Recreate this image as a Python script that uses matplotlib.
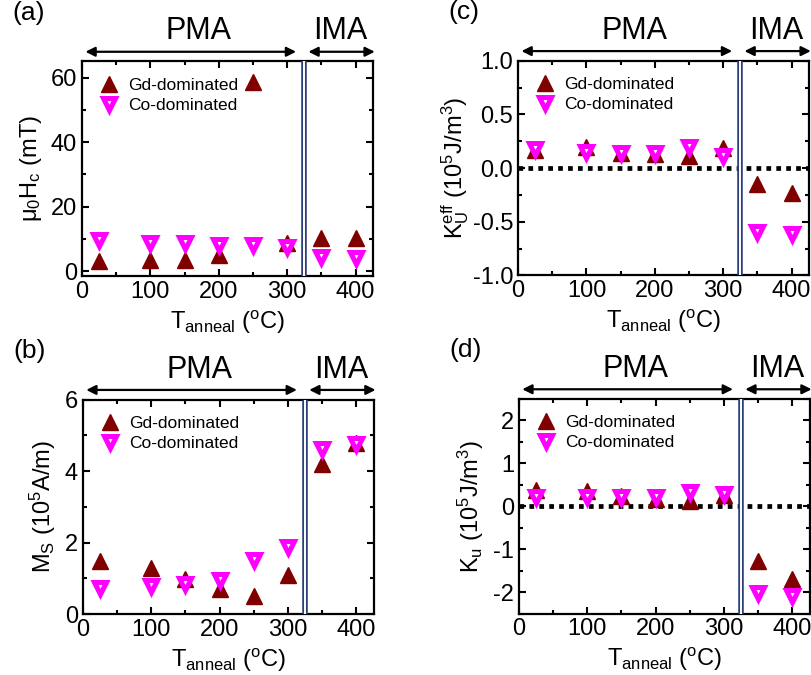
import matplotlib
matplotlib.use("Agg")
import matplotlib.pyplot as plt
from matplotlib.ticker import MultipleLocator

plt.rcParams['font.family'] = ['Liberation Sans', 'DejaVu Sans']
plt.rcParams['mathtext.fontset'] = 'custom'
plt.rcParams['mathtext.rm'] = 'Liberation Sans'
plt.rcParams['mathtext.it'] = 'Liberation Sans'
plt.rcParams['mathtext.default'] = 'rm'
plt.rcParams['axes.unicode_minus'] = False

# annealing temperatures
temps = [25, 100, 150, 200, 250, 300, 350, 400]

# (a) coercive field, mT
hc_gd = [3.2, 3.4, 3.4, 5.0, 58.5, 8.7, 10.3, 10.3]
hc_co = [9.6, 8.8, 8.8, 8.2, 8.2, 7.4, 4.3, 4.0]

# (b) saturation magnetisation, 1e5 A/m
ms_gd = [1.50, 1.30, 0.99, 0.71, 0.51, 1.10, 4.19, 4.79]
ms_co = [0.74, 0.78, 0.85, 0.96, 1.52, 1.87, 4.63, 4.76]

# (c) effective anisotropy, 1e5 J/m^3
keff_gd = [0.17, 0.20, 0.14, 0.13, 0.11, 0.19, -0.15, -0.23]
keff_co = [0.18, 0.15, 0.14, 0.14, 0.20, 0.11, -0.60, -0.61]

# (d) uniaxial anisotropy, 1e5 J/m^3
ku_gd = [0.37, 0.35, 0.23, 0.18, 0.12, 0.26, -1.28, -1.69]
ku_co = [0.21, 0.21, 0.22, 0.21, 0.33, 0.29, -2.02, -2.10]

GD_COLOR = '#800000'
CO_COLOR = '#ff00ff'
T_SPLIT = 325

fig = plt.figure(figsize=(8.12, 6.75), dpi=100)


def make_panel(rect, gd, co, ylim, ymajor, yminor, ylabel, tag, zero_line=False,
               yfmt=None, ypad=5):
    ax = fig.add_axes(rect)
    ax.plot(temps, gd, linestyle='none', marker='^', ms=11.5, color=GD_COLOR,
            label='Gd-dominated', zorder=3)
    ax.plot(temps, co, linestyle='none', marker='v', ms=8.5, mfc='white',
            mec=CO_COLOR, mew=3.6, label='Co-dominated', zorder=4)
    if zero_line:
        ax.axhline(0, color='black', lw=3.4, linestyle=(0, (1, 1.1)), zorder=2)
    ax.axvline(T_SPLIT, color='#2b3f7a', lw=4, zorder=5)
    ax.axvline(T_SPLIT, color='white', lw=1.4, zorder=6)

    ax.set_xlim(0, 425)
    ax.set_ylim(*ylim)
    ax.xaxis.set_major_locator(MultipleLocator(100))
    ax.xaxis.set_minor_locator(MultipleLocator(50))
    ax.yaxis.set_major_locator(MultipleLocator(ymajor))
    ax.yaxis.set_minor_locator(MultipleLocator(yminor))
    if yfmt:
        ax.yaxis.set_major_formatter(yfmt)
    ax.tick_params(which='both', direction='in', top=True, right=True,
                   labelsize=17, width=1.5)
    ax.tick_params(which='major', length=5)
    ax.tick_params(which='minor', length=3)
    for sp in ax.spines.values():
        sp.set_linewidth(1.6)

    ax.set_xlabel(r'T$_{anneal}$ ($^{o}$C)', fontsize=17, labelpad=4)
    ax.set_ylabel(ylabel, fontsize=17, labelpad=ypad)

    ax.legend(loc='upper left', frameon=False, fontsize=12.5,
              handletextpad=0.35, borderaxespad=0.4, labelspacing=0.3,
              handlelength=1.5, bbox_to_anchor=(0.0, 0.99))

    # PMA / IMA arrows above the frame
    ax.annotate('', xy=(5, 1.045), xytext=(313, 1.045),
                xycoords=('data', 'axes fraction'),
                arrowprops=dict(arrowstyle='<|-|>', color='black', lw=1.6,
                                mutation_scale=14, shrinkA=0, shrinkB=0),
                annotation_clip=False)
    ax.annotate('', xy=(331, 1.045), xytext=(428, 1.045),
                xycoords=('data', 'axes fraction'),
                arrowprops=dict(arrowstyle='<|-|>', color='black', lw=1.6,
                                mutation_scale=14, shrinkA=0, shrinkB=0),
                annotation_clip=False)
    ax.text(170, 1.07, 'PMA', transform=ax.get_xaxis_transform(),
            ha='center', va='bottom', fontsize=22)
    ax.text(378, 1.07, 'IMA', transform=ax.get_xaxis_transform(),
            ha='center', va='bottom', fontsize=22)
    ax.text(-0.24, 1.17, tag, transform=ax.transAxes, ha='left', va='bottom',
            fontsize=19)
    return ax


make_panel([0.101, 0.591, 0.358, 0.318], hc_gd, hc_co, (-1.5, 65), 20, 10,
           r'$\mu_0$H$_c$ (mT)', '(a)')
make_panel([0.102, 0.090, 0.358, 0.318], ms_gd, ms_co, (0, 6), 2, 1,
           r'M$_S$ (10$^5$A/m)', '(b)')
make_panel([0.638, 0.592, 0.358, 0.318], keff_gd, keff_co, (-1, 1), 0.5, 0.25,
           r'K$_U^{eff}$ (10$^5$J/m$^3$)', '(c)', zero_line=True,
           yfmt=matplotlib.ticker.FormatStrFormatter('%.1f'), ypad=1)
make_panel([0.639, 0.091, 0.358, 0.318], ku_gd, ku_co, (-2.5, 2.5), 1, 0.5,
           r'K$_u$ (10$^5$J/m$^3$)', '(d)', zero_line=True)

fig.savefig('out.png', dpi=100)
